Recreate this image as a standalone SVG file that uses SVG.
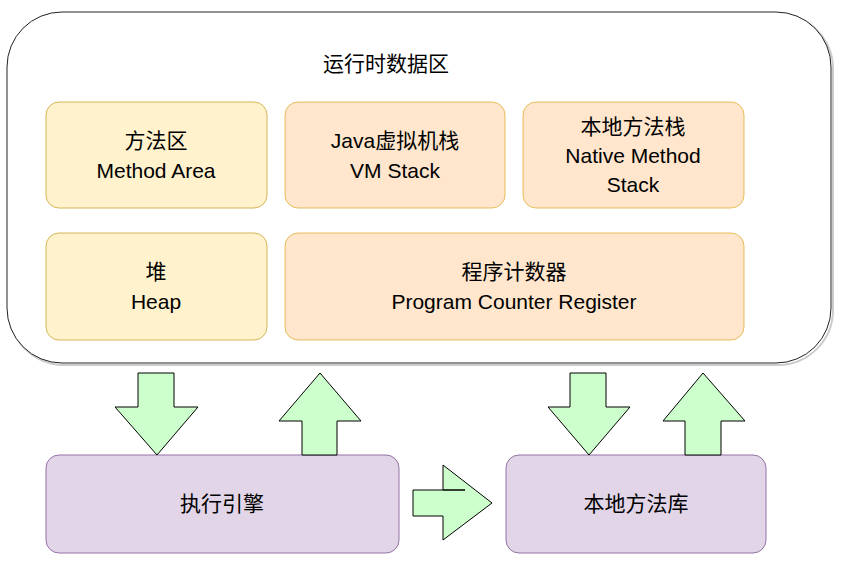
<svg xmlns="http://www.w3.org/2000/svg" width="841" height="569" viewBox="0 0 841 569">
<style>
text{font-family:"Liberation Sans","Noto Sans CJK SC",sans-serif;font-size:21px;fill:#000;text-anchor:middle}
.y{fill:#fff2cc;stroke:#d6b656}
.o{fill:#ffe6cc;stroke:#d79b00;stroke-opacity:.6}
.p{fill:#e1d5e7;stroke:#9673a6}
.a{fill:#ccffcc;stroke:#000;stroke-width:1}
</style>
<rect width="841" height="569" fill="#fff"/>
<g id="runtime"><rect x="9" y="14" width="824" height="351" rx="55" fill="#fff" stroke="#ccc" stroke-width="2"/><rect x="7" y="12" width="824" height="351" rx="55" fill="#fff" stroke="#222"/><text x="386" y="71" font-size="25">运行时数据区</text></g>
<g id="method"><rect class="y" x="46" y="102" width="221" height="106" rx="13"/><text x="156" y="148">方法区</text><text x="156" y="178">Method Area</text></g>
<g id="vmstack"><rect class="o" x="285" y="102" width="220" height="106" rx="13"/><text x="395" y="148">Java虚拟机栈</text><text x="395" y="178">VM Stack</text></g>
<g id="native"><rect class="o" x="523" y="102" width="221" height="106" rx="13"/><text x="633" y="134">本地方法栈</text><text x="633" y="163">Native Method</text><text x="633" y="192">Stack</text></g>
<g id="heap"><rect class="y" x="46" y="233" width="221" height="107" rx="13"/><text x="156" y="279">堆</text><text x="156" y="309">Heap</text></g>
<g id="pc"><rect class="o" x="285" y="233" width="459" height="107" rx="13"/><text x="514" y="279">程序计数器</text><text x="514" y="309">Program Counter Register</text></g>
<g id="engine"><rect class="p" x="46" y="455" width="353" height="98" rx="13"/><text x="222" y="511">执行引擎</text></g>
<g id="lib"><rect class="p" x="506" y="455" width="260" height="98" rx="13"/><text x="636" y="511">本地方法库</text></g>
<g id="connectors">
<polygon class="a" points="138,373 174,373 174,407 198,407 157,455 115,407 138,407"/>
<polygon class="a" points="302,455 337,455 337,421 361,421 320,373 279,421 302,421"/>
<polygon class="a" points="413,490 443,490 465,490 443,490 443,465 492,503 443,540 443,516 413,516"/>
<polygon class="a" points="570,373 606,373 606,407 630,407 589,455 548,407 570,407"/>
<polygon class="a" points="685,455 721,455 721,421 745,421 703,373 663,421 685,421"/>
</g>
</svg>
